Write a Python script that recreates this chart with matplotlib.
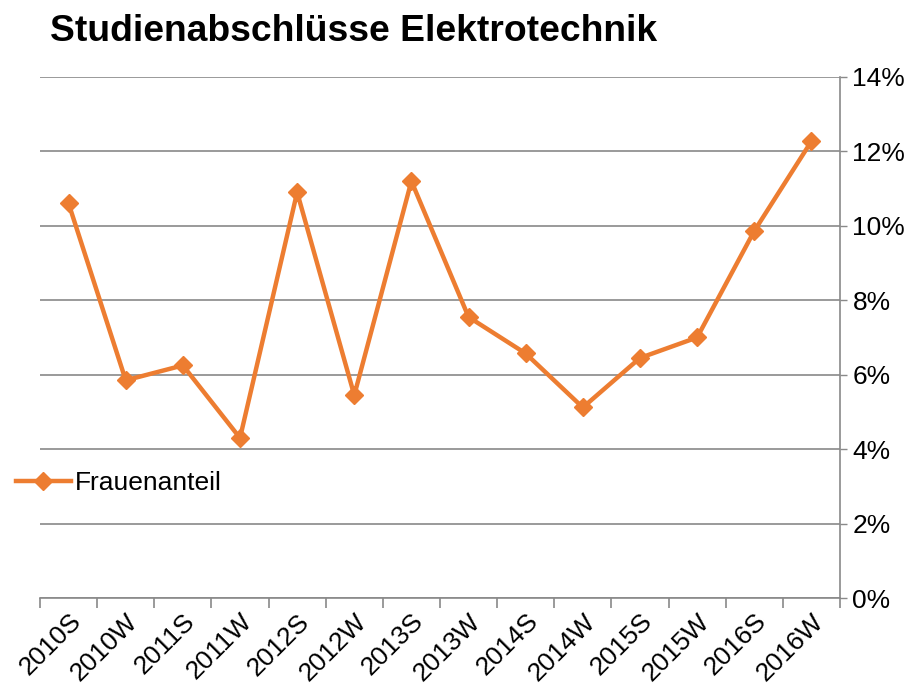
import matplotlib
matplotlib.use("Agg")
import matplotlib.pyplot as plt
import numpy as np

plt.rcParams['font.family'] = ['Liberation Sans', 'DejaVu Sans']

semester = ["2010S", "2010W", "2011S", "2011W", "2012S", "2012W", "2013S",
            "2013W", "2014S", "2014W", "2015S", "2015W", "2016S", "2016W"]
frauenanteil = [10.6, 5.85, 6.25, 4.3, 10.9, 5.45, 11.2,
                7.55, 6.57, 5.12, 6.45, 7.0, 9.86, 12.27]

fig = plt.figure(figsize=(9.22, 6.93), dpi=100)
ax = fig.add_axes([0.0434, 0.137, 0.8676, 0.752])

x = np.arange(len(semester))
line, = ax.plot(x, frauenanteil, color="#ED7D31", lw=3.2, marker="D",
                markersize=9, label="Frauenanteil")

ax.set_xlim(-0.5, len(semester) - 0.5)
ax.set_ylim(0, 14)
ax.yaxis.tick_right()
ax.set_yticks(np.arange(0, 15, 2))
ax.set_yticklabels([f"{v}%" for v in range(0, 15, 2)], fontsize=19)
ax.tick_params(axis="y", length=5, color="#898989", width=1, pad=4)
ax.grid(axis="y", color="#898989", lw=1.2)
ax.set_axisbelow(True)

# major ticks between categories, labels on minor ticks at the centres
ax.set_xticks(np.arange(-0.5, len(semester), 1))
ax.set_xticklabels([])
ax.set_xticks(x, minor=True)
ax.set_xticklabels(semester, minor=True, rotation=45, ha="right",
                   rotation_mode="anchor", fontsize=19)
ax.tick_params(axis="x", which="major", length=7, color="#898989", width=1.2)
ax.tick_params(axis="x", which="minor", length=0, pad=8)

for s in ["top", "left"]:
    ax.spines[s].set_visible(False)
for s in ["right", "bottom"]:
    ax.spines[s].set_color("#898989")
    ax.spines[s].set_linewidth(1.2)

fig.text(0.054, 0.955, "Studienabschlüsse Elektrotechnik", fontsize=26.8,
         fontweight="bold", va="center", ha="left")

fig.legend(handles=[line], loc="center left", bbox_to_anchor=(0.017, 0.303),
           frameon=False, fontsize=19, handlelength=2.1, handletextpad=0.15,
           borderaxespad=0, borderpad=0)

fig.savefig("out.png", dpi=100)
